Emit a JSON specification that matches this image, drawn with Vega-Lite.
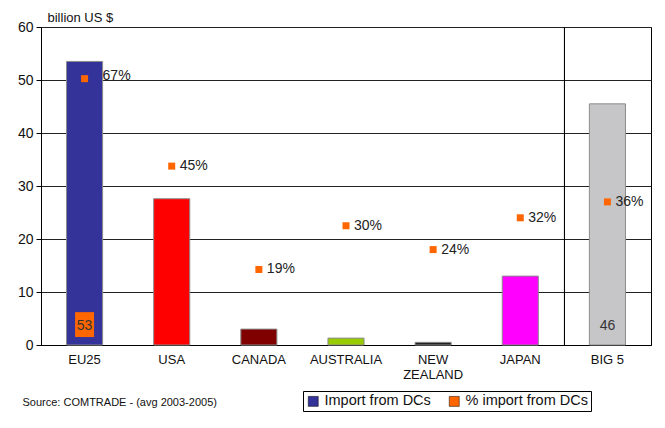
{
  "$schema": "https://vega.github.io/schema/vega-lite/v6.json",
  "width": 610,
  "height": 318,
  "autosize": {"type": "none"},
  "padding": {"left": 41, "top": 27, "right": 14, "bottom": 83},
  "background": "white",
  "config": {
    "font": "Liberation Sans",
    "view": {"stroke": "#000", "strokeWidth": 1},
    "axis": {"labelColor": "#111", "titleColor": "#111", "titleFontWeight": "normal"}
  },
  "data": {
    "values": [
      {"region": "EU25", "imports": 53.5, "pct": 0.67, "inside": "53"},
      {"region": "USA", "imports": 27.6, "pct": 0.45},
      {"region": "CANADA", "imports": 3.0, "pct": 0.19},
      {"region": "AUSTRALIA", "imports": 1.3, "pct": 0.30},
      {"region": "NEW ZEALAND", "imports": 0.5, "pct": 0.24},
      {"region": "JAPAN", "imports": 13.0, "pct": 0.32},
      {"region": "BIG 5", "imports": 45.5, "pct": 0.36, "inside": "46"}
    ]
  },
  "encoding": {
    "x": {
      "field": "region",
      "type": "nominal",
      "sort": null,
      "scale": {"paddingInner": 0.586, "paddingOuter": 0.293},
      "axis": {
        "labelAngle": 0,
        "ticks": false,
        "grid": false,
        "labelPadding": 8,
        "labelFontSize": 13,
        "labelExpr": "datum.value == 'NEW ZEALAND' ? ['NEW', 'ZEALAND'] : datum.value",
        "domainColor": "#000",
        "title": "Source: COMTRADE - (avg 2003-2005)",
        "titleFontSize": 11,
        "titleAlign": "left",
        "titleAnchor": "start",
        "titleX": -19,
        "titleY": 57,
        "titleBaseline": "middle"
      }
    }
  },
  "layer": [
    {
      "layer": [
        {
          "mark": {"type": "bar", "stroke": "#8c8c8c", "strokeWidth": 1},
          "encoding": {
            "y": {
              "field": "imports",
              "type": "quantitative",
              "scale": {"domain": [0, 60], "nice": false},
              "axis": {
                "values": [0, 10, 20, 30, 40, 50, 60],
                "grid": true,
                "tickSize": 5,
                "tickColor": "#000",
                "domainColor": "#000",
                "gridColor": "#222",
                "gridWidth": 1,
                "labelFontSize": 14,
                "labelPadding": 3,
                "title": "billion US $",
                "titleFontSize": 13,
                "titleAngle": 0,
                "titleAlign": "left",
                "titleX": 6,
                "titleY": -6,
                "titleBaseline": "alphabetic"
              }
            },
            "color": {
              "field": "region",
              "type": "nominal",
              "scale": {
                "domain": ["EU25", "USA", "CANADA", "AUSTRALIA", "NEW ZEALAND", "JAPAN", "BIG 5"],
                "range": ["#333399", "#ff0000", "#800000", "#99cc00", "#222222", "#ff00ff", "#c6c6c8"]
              },
              "legend": null
            }
          }
        },
        {
          "mark": {"type": "rule", "color": "#000", "strokeWidth": 1},
          "encoding": {
            "x": {"datum": "BIG 5", "type": "nominal", "bandPosition": -0.69}
          }
        },
        {
          "transform": [{"filter": "datum.region == 'EU25'"}],
          "mark": {"type": "bar", "color": "#ff6600", "width": 19},
          "encoding": {
            "y": {"datum": 1.5, "type": "quantitative"},
            "y2": {"datum": 6.2}
          }
        },
        {
          "transform": [{"filter": "isValid(datum.inside)"}],
          "mark": {"type": "text", "fontSize": 14, "color": "#333", "baseline": "middle", "dy": -19},
          "encoding": {
            "y": {"datum": 0, "type": "quantitative"},
            "text": {"field": "inside"}
          }
        }
      ]
    },
    {
      "layer": [
        {
          "mark": {"type": "point", "shape": "square", "filled": true, "size": 49, "opacity": 1},
          "encoding": {
            "y": {
              "field": "pct",
              "type": "quantitative",
              "scale": {"domain": [0, 0.8], "nice": false},
              "axis": null
            },
            "fill": {
              "datum": "% import from DCs",
              "scale": {
                "domain": ["Import from DCs", "% import from DCs"],
                "range": ["#333399", "#ff6600"]
              },
              "legend": {
                "title": null,
                "orient": "none",
                "legendX": 262,
                "legendY": 364,
                "direction": "horizontal",
                "columns": 2,
                "symbolType": "square",
                "symbolSize": 100,
                "symbolStrokeColor": "#000",
                "symbolStrokeWidth": 0.5,
                "labelFontSize": 14.5,
                "labelColor": "#111",
                "columnPadding": 16,
                "strokeColor": "#000",
                "padding": 3
              }
            }
          }
        },
        {
          "transform": [{"filter": "datum.region != 'EU25'"}],
          "mark": {"type": "text", "align": "left", "baseline": "middle", "dx": 8, "fontSize": 14, "color": "#222"},
          "encoding": {
            "y": {"field": "pct", "type": "quantitative"},
            "text": {"field": "pct", "type": "quantitative", "format": ".0%"}
          }
        },
        {
          "transform": [{"filter": "datum.region == 'EU25'"}],
          "mark": {"type": "text", "align": "left", "baseline": "middle", "dx": 18, "dy": -3, "fontSize": 14, "color": "#222"},
          "encoding": {
            "y": {"field": "pct", "type": "quantitative"},
            "text": {"field": "pct", "type": "quantitative", "format": ".0%"}
          }
        }
      ]
    }
  ],
  "resolve": {"scale": {"y": "independent"}}
}
